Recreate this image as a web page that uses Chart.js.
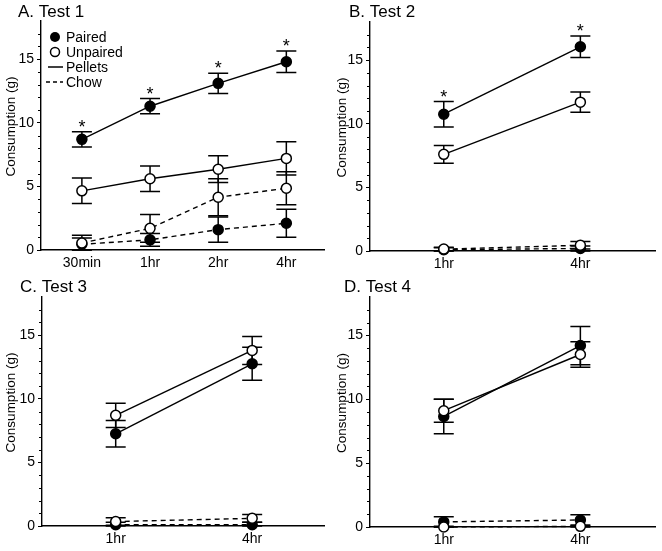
<!DOCTYPE html>
<html>
<head>
<meta charset="utf-8">
<script src="https://cdn.jsdelivr.net/npm/chart.js@4.4.1/dist/chart.umd.min.js"></script>
<style>
  body { margin: 0; background: #fff; }
  #wrap { position: relative; width: 662px; height: 551px; }
  canvas { position: absolute; }
</style>
</head>
<body>
<div id="wrap">
  <canvas id="cA" width="331" height="275" style="left:0;top:0"></canvas>
  <canvas id="cB" width="331" height="275" style="left:331px;top:0"></canvas>
  <canvas id="cC" width="331" height="276" style="left:0;top:275px"></canvas>
  <canvas id="cD" width="331" height="276" style="left:331px;top:275px"></canvas>
</div>
<script>
// ---- data (grams, mean +/- SEM) ----
const yTicks = [0, 5, 10, 15];
const yLabel = "Consumption (g)";
const legendLabels = ["Paired", "Unpaired", "Pellets", "Chow"];

const t1Times = ["30min", "1hr", "2hr", "4hr"];
const t1PairedPellets = [8.7, 11.3, 13.1, 14.8];
const t1PairedPelletsErr = [0.6, 0.6, 0.8, 0.85];
const t1UnpairedPellets = [4.65, 5.6, 6.35, 7.2];
const t1UnpairedPelletsErr = [1.0, 1.0, 1.05, 1.3];
const t1PairedChow = [0.45, 0.8, 1.6, 2.1];
const t1PairedChowErr = [0.5, 0.5, 1.0, 1.1];
const t1UnpairedChow = [0.55, 1.7, 4.15, 4.85];
const t1UnpairedChowErr = [0.6, 1.1, 1.45, 1.3];
const t1Sig = [0, 1, 2, 3];

const t2Times = ["1hr", "4hr"];
const t2PairedPellets = [10.75, 16.05];
const t2PairedPelletsErr = [1.0, 0.85];
const t2UnpairedPellets = [7.6, 11.7];
const t2UnpairedPelletsErr = [0.7, 0.8];
const t2PairedChow = [0.1, 0.2];
const t2PairedChowErr = [0.15, 0.2];
const t2UnpairedChow = [0.15, 0.45];
const t2UnpairedChowErr = [0.15, 0.3];
const t2Sig = [0, 1];

const t3Times = ["1hr", "4hr"];
const t3PairedPellets = [7.25, 12.75];
const t3PairedPelletsErr = [1.05, 1.3];
const t3UnpairedPellets = [8.7, 13.8];
const t3UnpairedPelletsErr = [0.95, 1.1];
const t3PairedChow = [0.1, 0.1];
const t3PairedChowErr = [0.2, 0.2];
const t3UnpairedChow = [0.35, 0.6];
const t3UnpairedChowErr = [0.3, 0.3];
const t3Sig = [];

const t4Times = ["1hr", "4hr"];
const t4PairedPellets = [8.65, 14.2];
const t4PairedPelletsErr = [1.35, 1.5];
const t4UnpairedPellets = [9.1, 13.5];
const t4UnpairedPelletsErr = [0.9, 1.0];
const t4PairedChow = [0.4, 0.55];
const t4PairedChowErr = [0.4, 0.4];
const t4UnpairedChow = [0.0, 0.05];
const t4UnpairedChowErr = [0.05, 0.05];
const t4Sig = [];

const FONT = "'Liberation Sans', Arial, sans-serif";

/* =======================
   PLUGINS
======================= */
const errorBars = {
  id: "errorBars",
  beforeDatasetsDraw(chart) {
    const { ctx, scales: { x, y } } = chart;
    ctx.save();
    ctx.strokeStyle = "#000";
    ctx.lineWidth = 1.5;
    chart.data.datasets.forEach(ds => {
      ds.data.forEach((p, i) => {
        const e = ds.errs[i];
        const px = x.getPixelForValue(p.x);
        const top = y.getPixelForValue(p.y + e);
        const bot = y.getPixelForValue(Math.max(0, p.y - e));
        ctx.beginPath();
        ctx.moveTo(px, top); ctx.lineTo(px, bot);
        ctx.moveTo(px - 10, top); ctx.lineTo(px + 10, top);
        ctx.moveTo(px - 10, bot); ctx.lineTo(px + 10, bot);
        ctx.stroke();
      });
    });
    ctx.restore();
  }
};

const extras = {
  id: "extras",
  afterDraw(chart, args, o) {
    const { ctx, chartArea, scales: { x, y } } = chart;
    ctx.save();
    // minor ticks every 1 g
    ctx.strokeStyle = "#000";
    ctx.lineWidth = 1;
    for (let v = 1; v < y.max; v++) {
      if (v % 5 === 0) continue;
      const py = Math.round(y.getPixelForValue(v)) + 0.5;
      ctx.beginPath();
      ctx.moveTo(chartArea.left - 3, py); ctx.lineTo(chartArea.left, py);
      ctx.stroke();
    }
    // panel title
    ctx.fillStyle = "#000";
    ctx.font = `17px ${FONT}`;
    ctx.textAlign = "left";
    ctx.textBaseline = "alphabetic";
    ctx.fillText(o.title, o.titleX, 17);
    // y-axis label
    ctx.save();
    ctx.translate(11, (chartArea.top + chartArea.bottom) / 2 - 9);
    ctx.rotate(-Math.PI / 2);
    ctx.font = `13.5px ${FONT}`;
    ctx.textAlign = "center";
    ctx.textBaseline = "middle";
    ctx.fillText(yLabel, 0, 0);
    ctx.restore();
    // significance stars above paired pellets
    const ds = chart.data.datasets.find(d => d.isSig);
    ctx.font = `18px ${FONT}`;
    ctx.textAlign = "center";
    o.sig.forEach(i => {
      const p = ds.data[i];
      ctx.fillText("*", x.getPixelForValue(p.x), y.getPixelForValue(p.y + ds.errs[i]) + 1);
    });
    // legend (panel A only)
    if (o.legend) {
      const lx = chartArea.left + 14, ly = chartArea.top + 16, gap = 15;
      ctx.font = `14px ${FONT}`;
      ctx.textAlign = "left";
      ctx.textBaseline = "middle";
      ctx.lineWidth = 1.5;
      ctx.beginPath(); ctx.arc(lx, ly, 5, 0, Math.PI * 2); ctx.fill();
      ctx.beginPath(); ctx.arc(lx, ly + gap, 4.5, 0, Math.PI * 2);
      ctx.fillStyle = "#fff"; ctx.fill(); ctx.stroke();
      ctx.fillStyle = "#000";
      ctx.beginPath(); ctx.moveTo(lx - 7, ly + gap * 2); ctx.lineTo(lx + 8, ly + gap * 2); ctx.stroke();
      ctx.setLineDash([4, 3]);
      ctx.beginPath(); ctx.moveTo(lx - 9, ly + gap * 3); ctx.lineTo(lx + 8, ly + gap * 3); ctx.stroke();
      ctx.setLineDash([]);
      legendLabels.forEach((t, k) => ctx.fillText(t, lx + 11, ly + gap * k + 1));
    }
    ctx.restore();
  }
};

/* =======================
   PANEL BUILDER
======================= */
function series(vals, errs, filled, dashed, isSig) {
  return {
    data: vals.map((v, i) => ({ x: i, y: v })),
    errs,
    isSig,
    borderColor: "#000",
    borderWidth: 1.4,
    borderDash: dashed ? [5, 4] : [],
    pointRadius: 5,
    pointHoverRadius: 5,
    pointBorderWidth: 1.5,
    pointBorderColor: "#000",
    pointBackgroundColor: filled ? "#000" : "#fff",
    fill: false,
    tension: 0,
    clip: false
  };
}

function makePanel(id, p) {
  return new Chart(document.getElementById(id), {
    type: "line",
    data: {
      datasets: [
        series(p.unpairedPellets, p.unpairedPelletsErr, false, false),
        series(p.unpairedChow, p.unpairedChowErr, false, true),
        series(p.pairedPellets, p.pairedPelletsErr, true, false, true),
        series(p.pairedChow, p.pairedChowErr, true, true)
      ]
    },
    options: {
      responsive: false,
      animation: false,
      layout: { padding: { top: p.top, right: 6, left: 0, bottom: 0 } },
      plugins: {
        legend: { display: false },
        tooltip: { enabled: false },
        extras: { title: p.title, titleX: p.titleX, sig: p.sig, legend: p.legend }
      },
      scales: {
        x: {
          type: "linear",
          min: p.xMin,
          max: p.xMax,
          afterBuildTicks: s => { s.ticks = p.times.map((_, i) => ({ value: i })); },
          afterFit: s => { s.height = p.axisH; },
          ticks: {
            callback: v => p.times[v],
            color: "#000",
            font: { family: FONT, size: 14 },
            padding: 5,
            maxRotation: 0
          },
          grid: { display: false, drawTicks: false },
          border: { display: true, color: "#000", width: 1.4 }
        },
        y: {
          min: 0,
          max: 18,
          afterBuildTicks: s => { s.ticks = yTicks.map(v => ({ value: v })); },
          afterFit: s => { s.width = p.axisW; },
          ticks: { color: "#000", font: { family: FONT, size: 14 }, padding: 3 },
          grid: { drawOnChartArea: false, drawTicks: true, tickLength: 4, tickColor: "#000", tickWidth: 1 },
          border: { display: true, color: "#000", width: 1.4 }
        }
      }
    },
    plugins: [errorBars, extras]
  });
}

makePanel("cA", {
  title: "A. Test 1", titleX: 18, legend: true, times: t1Times, sig: t1Sig,
  pairedPellets: t1PairedPellets, pairedPelletsErr: t1PairedPelletsErr,
  unpairedPellets: t1UnpairedPellets, unpairedPelletsErr: t1UnpairedPelletsErr,
  pairedChow: t1PairedChow, pairedChowErr: t1PairedChowErr,
  unpairedChow: t1UnpairedChow, unpairedChowErr: t1UnpairedChowErr,
  top: 21, axisW: 41, axisH: 25, xMin: -0.6, xMax: 3.56
});

makePanel("cB", {
  title: "B. Test 2", titleX: 18, times: t2Times, sig: t2Sig,
  pairedPellets: t2PairedPellets, pairedPelletsErr: t2PairedPelletsErr,
  unpairedPellets: t2UnpairedPellets, unpairedPelletsErr: t2UnpairedPelletsErr,
  pairedChow: t2PairedChow, pairedChowErr: t2PairedChowErr,
  unpairedChow: t2UnpairedChow, unpairedChowErr: t2UnpairedChowErr,
  top: 22, axisW: 39, axisH: 24, xMin: -0.54, xMax: 1.55
});

makePanel("cC", {
  title: "C. Test 3", titleX: 20, times: t3Times, sig: t3Sig,
  pairedPellets: t3PairedPellets, pairedPelletsErr: t3PairedPelletsErr,
  unpairedPellets: t3UnpairedPellets, unpairedPelletsErr: t3UnpairedPelletsErr,
  pairedChow: t3PairedChow, pairedChowErr: t3PairedChowErr,
  unpairedChow: t3UnpairedChow, unpairedChowErr: t3UnpairedChowErr,
  top: 22, axisW: 42, axisH: 25, xMin: -0.54, xMax: 1.53
});

makePanel("cD", {
  title: "D. Test 4", titleX: 13, times: t4Times, sig: t4Sig,
  pairedPellets: t4PairedPellets, pairedPelletsErr: t4PairedPelletsErr,
  unpairedPellets: t4UnpairedPellets, unpairedPelletsErr: t4UnpairedPelletsErr,
  pairedChow: t4PairedChow, pairedChowErr: t4PairedChowErr,
  unpairedChow: t4UnpairedChow, unpairedChowErr: t4UnpairedChowErr,
  top: 22, axisW: 39, axisH: 24, xMin: -0.54, xMax: 1.55
});
</script>
</body>
</html>
